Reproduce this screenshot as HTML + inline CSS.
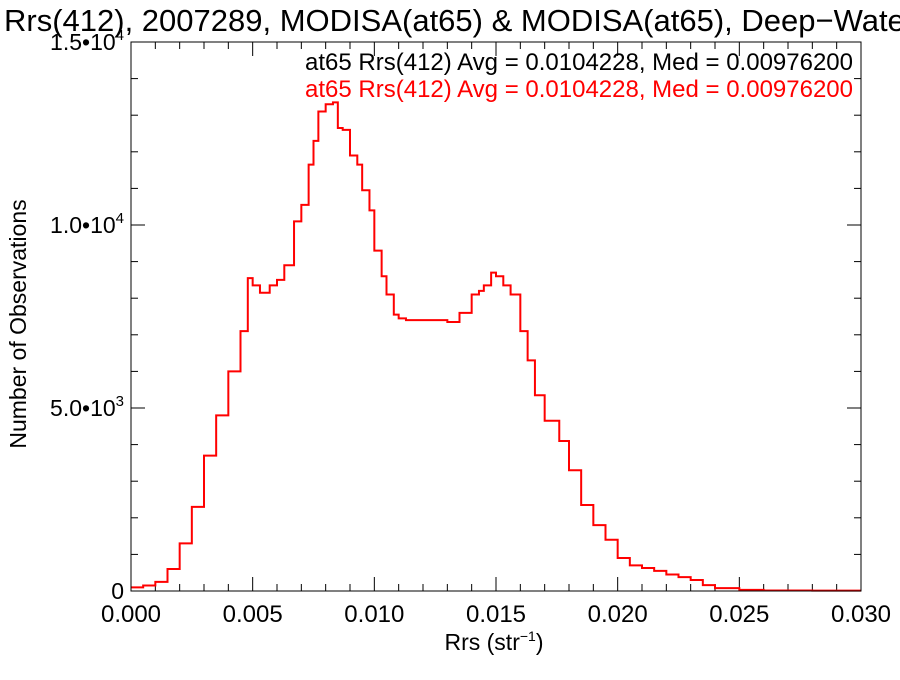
<!DOCTYPE html>
<html><head><meta charset="utf-8"><style>
body{margin:0;background:#fff;width:900px;height:675px;overflow:hidden;font-family:"Liberation Sans",sans-serif}
svg text{font-family:"Liberation Sans",sans-serif}
</style></head><body>
<svg id="c" width="900" height="675">
<text x="4" y="31" font-size="31">Rrs(412), 2007289, MODISA(at65) &amp; MODISA(at65), Deep−Water</text>
<text x="853" y="70" font-size="24" text-anchor="end" fill="#000">at65 Rrs(412) Avg = 0.0104228, Med = 0.00976200</text>
<text x="853" y="97" font-size="24" text-anchor="end" fill="#ff0000">at65 Rrs(412) Avg = 0.0104228, Med = 0.00976200</text>
<text x="494" y="650" font-size="23" text-anchor="middle">Rrs (str<tspan font-size="14" dy="-9">−1</tspan><tspan dy="9">)</tspan></text>
<text transform="translate(26,324) rotate(-90)" font-size="23" text-anchor="middle">Number of Observations</text>
<g id="axes"></g>
<path id="hist" fill="none" stroke="#ff0000" stroke-width="2"></path>
<rect x="131" y="42" width="730" height="549" fill="none" stroke="#000" stroke-width="1"></rect>
</svg>
<script>
const binStart=[0,0.0005,0.001,0.0015,0.002,0.0025,0.003,0.0035,0.004,0.0045,0.0048,0.005,0.0053,0.0057,0.006,0.0063,0.0067,0.007,0.0073,0.0075,0.0077,0.008,0.0083,0.0085,0.0087,0.009,0.0093,0.0095,0.0098,0.010,0.0103,0.0105,0.0108,0.011,0.0113,0.012,0.0125,0.013,0.0135,0.014,0.0143,0.0145,0.0148,0.015,0.0153,0.0156,0.016,0.0163,0.0166,0.017,0.0173,0.0176,0.018,0.0185,0.019,0.0195,0.020,0.0205,0.021,0.0215,0.022,0.0225,0.023,0.0235,0.024,0.025,0.026,0.028];
const counts=[100,150,250,600,1300,2300,3700,4800,6000,7100,8550,8350,8150,8350,8500,8900,10100,10550,11650,12300,13100,13300,13350,12650,12600,11900,11650,10950,10400,9300,8600,8100,7550,7450,7400,7400,7400,7350,7600,8100,8200,8350,8700,8600,8350,8100,7100,6300,5350,4650,4650,4100,3300,2350,1800,1400,900,700,630,550,450,380,300,160,80,30,15,10];
const xTicks=[0,0.005,0.010,0.015,0.020,0.025,0.030];
const xTickLabels=["0.000","0.005","0.010","0.015","0.020","0.025","0.030"];
const yTicks=[0,5000,10000,15000];
const yTickLabels=[["0",""],["5.0•10","3"],["1.0•10","4"],["1.5•10","4"]];
const X0=131,X1=861,Y0=591,Y1=42,XMAX=0.030,YMAX=15000;
const sx=v=>X0+(X1-X0)*v/XMAX, sy=v=>Y0-(Y0-Y1)*v/YMAX;
const ns="http://www.w3.org/2000/svg", ax=document.getElementById('axes');
function ln(x1,y1,x2,y2,name){const l=document.createElementNS(ns,'line');
l.setAttribute('x1',x1);l.setAttribute('y1',y1);l.setAttribute('x2',x2);l.setAttribute('y2',y2);l.setAttribute('stroke','#000');

ax.appendChild(l);}
for(let i=0;i<=30;i++){const v=i*0.001,x=sx(v),len=i%5==0?14:7;ln(x,Y0,x,Y0-len,'x-tick');ln(x,Y1,x,Y1+len,'x-tick-top');}
for(let i=0;i<=15;i++){const v=i*1000,y=sy(v),len=i%5==0?14:7;ln(X0,y,X0+len,y,'y-tick');ln(X1,y,X1-len,y,'y-tick-right');}
xTicks.forEach((v,i)=>{const t=document.createElementNS(ns,'text');t.setAttribute('x',sx(v));t.setAttribute('y',622);t.setAttribute('font-size','24');t.setAttribute('text-anchor','middle');t.textContent=xTickLabels[i];

ax.appendChild(t);});
yTicks.forEach((v,i)=>{const t=document.createElementNS(ns,'text');t.setAttribute('x',124);t.setAttribute('y',sy(v)+8);t.setAttribute('font-size','23');t.setAttribute('text-anchor','end');
t.innerHTML=yTickLabels[i][0]+(yTickLabels[i][1]?'<tspan font-size="15" dy="-10">'+yTickLabels[i][1]+'</tspan>':'');

ax.appendChild(t);});
let d='';
for(let i=0;i<binStart.length;i++){const x=sx(binStart[i]),xe=sx(i+1<binStart.length?binStart[i+1]:XMAX),y=sy(counts[i]);
d+=(i==0?'M'+x+','+y:'V'+y)+'H'+xe;}
document.getElementById('hist').setAttribute('d',d);
</script>
</body></html>
